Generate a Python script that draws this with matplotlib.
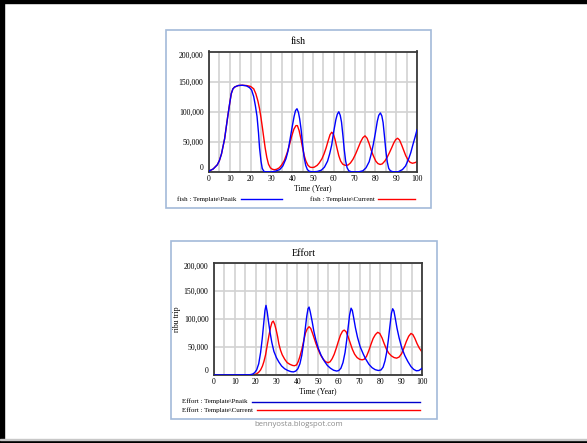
import matplotlib
matplotlib.use("Agg")
import matplotlib.pyplot as plt
from matplotlib.lines import Line2D
from matplotlib.patches import Rectangle

# ---------------- data ----------------
years_ticks = [0, 10, 20, 30, 40, 50, 60, 70, 80, 90, 100]
y_ticks = [0, 50000, 100000, 150000, 200000]
y_tick_labels = ["0", "50,000", "100,000", "150,000", "200,000"]

fish_pnaik_t = [0, 2, 4, 5, 6, 7.5, 9, 10, 10.7, 11.5, 12.3, 14, 16, 18, 19.5, 20.5, 21.5, 22.3, 23.1, 23.8,
                24.3, 25, 25.6, 26.3, 27, 30, 32, 34, 35.5, 37, 38, 39, 40, 40.9, 41.6, 42.3, 43, 43.6, 44.3,
                45, 45.7, 46.5, 47.3, 48.3, 50, 52, 54, 55.5, 57, 58, 59, 60, 61, 61.7, 62.4, 63.1, 63.7, 64.4,
                65, 65.7, 66.4, 67.2, 68.5, 72, 74, 75.5, 77, 78, 79, 80, 80.9, 81.6, 82.4, 83.1, 83.7, 84.4,
                85, 85.7, 86.4, 87.2, 88.5, 91, 93, 94.5, 96, 97, 98, 99, 100]
fish_pnaik = [1.5, 5, 12, 19, 30, 55, 92, 115, 130, 138, 141, 143.5, 144, 143, 140, 136, 125, 110, 92, 65,
              40, 18, 6, 1.5, 0.3, 0.2, 1.5, 4, 10, 22, 35, 55, 75, 92, 102, 105, 99, 88, 70,
              46, 25, 11, 4, 1, 0.3, 0.8, 3, 8, 18, 30, 45, 68, 87, 96, 100, 94, 83, 60,
              38, 18, 7, 2, 0.3, 0.3, 2, 7, 17, 30, 46, 65, 84, 94, 98, 93, 82, 58,
              36, 17, 6, 2, 0.3, 0.5, 4, 10, 22, 32, 45, 57, 70]

fish_current_t = [0, 2, 4, 5, 6, 7.5, 9, 10, 10.7, 11.5, 12.3, 14, 16, 18, 20, 21.5, 22.5, 23.5, 24.3, 25,
                  25.7, 26.4, 27, 27.8, 28.6, 29.5, 30.5, 31.5, 32.5, 33.8, 35, 36.2, 37.5, 38.6, 39.8, 40.8,
                  41.8, 42.5, 43.3, 44.2, 45, 45.8, 46.6, 47.6, 48.6, 49.6, 50.6, 52, 53, 54.3, 55.3, 56.3,
                  57.3, 58.2, 59, 59.8, 60.6, 61.5, 62.4, 63.3, 64.3, 65.5, 66.8, 68, 69.2, 70.5, 71.7, 72.9,
                  74, 75, 76, 77, 78, 79, 80.2, 81.2, 82.3, 83.3, 84.5, 85.6, 86.6, 87.8, 88.8, 89.8, 90.7,
                  91.6, 92.6, 93.6, 94.6, 95.7, 96.7, 97.8, 99, 100]
fish_current = [1.5, 5, 12, 19, 30, 55, 92, 115, 130, 138, 141, 143.5, 144, 143.5, 142, 138, 130, 118, 105, 90,
                73, 55, 40, 24, 13, 7, 4.5, 3.8, 4.5, 7, 12, 19, 31, 44, 60, 71,
                77, 77, 69, 55, 40, 27, 18, 11, 8, 7.5, 8, 11, 15, 22, 30, 40,
                52, 62, 66, 63, 54, 40, 27, 18, 13, 11, 11.5, 15, 21, 30, 40, 50,
                57, 60, 56, 47, 36, 27, 18, 14, 12.5, 13.5, 18, 24, 31, 40, 48, 54, 56,
                53, 45, 36, 27, 20, 16, 14.5, 15.5, 17]

effort_pnaik_t = [0, 17, 18.5, 19.5, 20.5, 21.5, 22.4, 23.2, 23.9, 24.5, 25, 25.6, 26.2, 27, 27.8, 28.8, 30,
                  31.2, 32.5, 34, 35.5, 37, 38.2, 39.3, 40.3, 41.3, 42.2, 43, 43.8, 44.6, 45.2, 45.7, 46.3,
                  47.2, 48, 49, 50.2, 51.5, 53, 54.5, 56, 57.5, 59, 60, 61, 62, 63, 63.8, 64.5, 65.2, 65.9,
                  66.5, 67.2, 68, 69, 70.3, 71.8, 73, 74.5, 76, 77.5, 79, 80.3, 81.3, 82.2, 83, 83.8, 84.6,
                  85.3, 85.9, 86.5, 87.2, 88, 89, 90.3, 91.8, 93.2, 94.7, 96, 97.3, 98.5, 99.3, 100]
effort_pnaik = [0, 0.3, 1.5, 4, 9, 20, 40, 65, 92, 115, 124, 112, 95, 75, 58, 42, 31,
                23, 16, 11, 8, 6, 5.5, 7, 11, 20, 35, 55, 80, 105, 118, 121, 112,
                95, 78, 62, 47, 35, 25, 17, 12, 8.5, 7, 8, 12, 22, 40, 62, 85, 107, 119,
                115, 101, 84, 67, 50, 37, 28, 19, 13, 9.5, 8, 9, 14, 25, 40, 62, 88,
                110, 118, 114, 100, 83, 66, 48, 34, 24, 15, 10, 7.5, 8, 10, 12]

effort_current_t = [0, 19, 20.5, 21.5, 22.4, 23.3, 24, 24.8, 25.6, 26.4, 27.2, 27.9, 28.5, 29.2, 29.9, 30.6,
                    31.2, 32, 32.8, 34, 35.2, 36.5, 37.8, 38.7, 39.7, 40.5, 41.3, 42.2, 43.2, 44, 44.8, 45.7,
                    46.5, 47.3, 48.2, 49, 50, 51.2, 52.5, 53.7, 54.8, 55.8, 56.8, 57.8, 58.8, 59.8, 60.8,
                    61.8, 62.6, 63.5, 64.5, 65.5, 66.5, 67.6, 68.8, 70, 71.2, 72.2, 73.3, 74.4, 75.5, 76.5,
                    77.6, 78.7, 79.7, 80.8, 81.8, 82.9, 84, 85.3, 86.6, 87.8, 89, 90.2, 91.3, 92.5, 93.6,
                    94.7, 95.6, 96.6, 97.6, 98.7, 100]
effort_current = [0, 0.3, 2, 5, 9, 16, 24, 36, 53, 70, 85, 94, 96, 90, 80, 68,
                  55, 44, 36, 28, 22, 19, 17, 16.5, 18, 24, 33, 45, 62, 75, 82, 86,
                  83, 75, 65, 56, 46, 36, 28, 23.5, 22, 23.5, 29, 37, 48, 60, 71,
                  78, 80, 77, 68, 57, 46, 37, 31, 28, 27, 28, 33, 43, 55, 65,
                  72, 76, 74, 66, 56, 46, 39, 34, 31, 30, 32, 38, 48, 60, 69,
                  74, 72, 65, 56, 48, 41]

# ---------------- drawing ----------------
W, H = 587, 443
fig = plt.figure(figsize=(W / 100, H / 100), dpi=100)
fig.patch.set_facecolor("white")

SERIF = ["Liberation Serif", "DejaVu Serif"]
BLUE = "#0000ff"
RED = "#ff0000"
GRID = "#d2d2d2"
FRAME = "#3a3a3a"
PANEL = "#a3bad9"


def fx(px):
    return px / W


def fy(py):
    return 1 - py / H


def ax_rect(x0, y0, x1, y1):
    return [fx(x0), fy(y1), fx(x1) - fx(x0), fy(y0) - fy(y1)]


# outer frame
fig.patches.append(Rectangle((0, 0), fx(4), 1, transform=fig.transFigure, color="black", zorder=10))
fig.patches.append(Rectangle((0, fy(3)), 1, 1 - fy(3), transform=fig.transFigure, color="black", zorder=10))
fig.patches.append(Rectangle((0, 0), 1, 1 - fy(3), transform=fig.transFigure, color="black", zorder=10))
fig.patches.append(Rectangle((0, 1 - fy(3) + 0.0), 1, (1 / H), transform=fig.transFigure, color="#c8c8c8", zorder=10))

# panel boxes
for (x0, y0, x1, y1) in [(166, 30.5, 431, 208), (171, 241.5, 437, 419)]:
    fig.patches.append(Rectangle((fx(x0), fy(y1)), fx(x1) - fx(x0), fy(y0) - fy(y1),
                                 transform=fig.transFigure, fill=False, edgecolor=PANEL, lw=1.2, zorder=1))


def style_axes(ax):
    ax.set_xlim(0, 100)
    ax.set_ylim(0, 200000)
    ax.set_xticks(years_ticks)
    ax.set_xticks(range(0, 101, 5), minor=True)
    ax.set_yticks(y_ticks)
    ax.set_yticklabels(y_tick_labels)
    ax.grid(True, which="both", axis="x", color=GRID, lw=1.2, zorder=0)
    ax.grid(True, which="major", axis="y", color=GRID, lw=1.2, zorder=0)
    ax.tick_params(which="both", length=0)
    ax.tick_params(axis="x", pad=2.2, labelsize=5.6)
    ax.tick_params(axis="y", pad=4, labelsize=5.6)
    for lab in ax.get_xticklabels() + ax.get_yticklabels():
        lab.set_family(SERIF)
    labs = ax.get_yticklabels()
    labs[0].set_va("bottom")
    labs[-1].set_va("top")
    for s in ax.spines.values():
        s.set_color(FRAME)
        s.set_linewidth(1.3)
    ax.set_axisbelow(True)


# top chart: fish
ax1 = fig.add_axes(ax_rect(209, 51.5, 417, 172))
style_axes(ax1)
ax1.plot(fish_pnaik_t, [v * 1000 for v in fish_pnaik], color=BLUE, lw=1.0, zorder=3)
ax1.plot(fish_current_t, [v * 1000 for v in fish_current], color=RED, lw=1.0, zorder=2)
ax1.set_xlabel("Time (Year)", family=SERIF, fontsize=5.6)
ax1.xaxis.set_label_coords(0.5, -(188 - 172) / 120.5)
ax1.xaxis.label.set_va("center")
fig.text(fx(298), fy(41), "fish", family=SERIF, fontsize=7.2, ha="center", va="center")

fig.text(fx(177), fy(199), "fish : Template\\Pnaik", family=SERIF, fontsize=5, ha="left", va="center")
fig.lines.append(Line2D([fx(241), fx(282)], [fy(199), fy(199)], transform=fig.transFigure, color=BLUE, lw=1.0))
fig.text(fx(310), fy(199), "fish : Template\\Current", family=SERIF, fontsize=5, ha="left", va="center")
fig.lines.append(Line2D([fx(378), fx(415)], [fy(199), fy(199)], transform=fig.transFigure, color=RED, lw=1.0))

# bottom chart: Effort
ax2 = fig.add_axes(ax_rect(214, 262.7, 422, 375))
style_axes(ax2)
ax2.plot(effort_pnaik_t, [v * 1000 for v in effort_pnaik], color=BLUE, lw=1.0, zorder=3)
ax2.plot(effort_current_t, [v * 1000 for v in effort_current], color=RED, lw=1.0, zorder=2)
ax2.set_xlabel("Time (Year)", family=SERIF, fontsize=5.6)
ax2.xaxis.set_label_coords(0.5, -(391 - 375) / 112.3)
ax2.xaxis.label.set_va("center")
ax2.set_ylabel("ribu trip", family=SERIF, fontsize=5.6)
ax2.yaxis.set_label_coords(-(214 - 177) / 208, 0.5)
ax2.yaxis.label.set_va("center")
fig.text(fx(304), fy(253), "Effort", family=SERIF, fontsize=7.2, ha="center", va="center")

fig.text(fx(182), fy(401), "Effort : Template\\Pnaik", family=SERIF, fontsize=5, ha="left", va="center")
fig.lines.append(Line2D([fx(252), fx(420)], [fy(402), fy(402)], transform=fig.transFigure, color="#0000cc", lw=1.0))
fig.text(fx(182), fy(410), "Effort : Template\\Current", family=SERIF, fontsize=5, ha="left", va="center")
fig.lines.append(Line2D([fx(257), fx(420)], [fy(410), fy(410)], transform=fig.transFigure, color=RED, lw=1.0))

fig.text(fx(299), fy(424), "bennyosta.blogspot.com", family=["Open Sans", "DejaVu Sans"], fontsize=5.6,
         color="#8a8a8a", ha="center", va="center")

fig.savefig("out.png", dpi=100, facecolor="white")
